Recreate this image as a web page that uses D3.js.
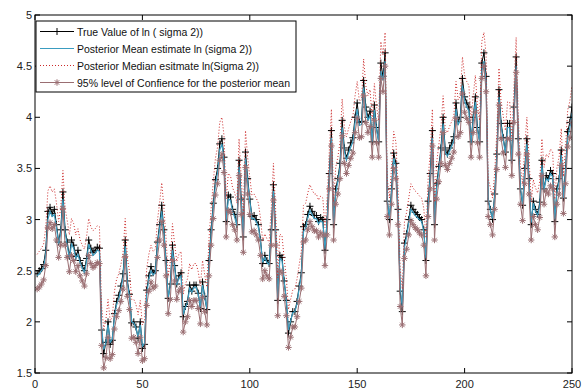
<!DOCTYPE html>
<html>
<head>
<meta charset="utf-8">
<script src="https://cdn.jsdelivr.net/npm/d3@7"></script>
<style>
  body { margin: 0; background: #fff; }
  text { font-family: "Liberation Sans", Arial, sans-serif; }
</style>
</head>
<body>
<svg id="chart" width="587" height="390"></svg>
<script>
// true value of ln(sigma^2), t = 1..250
const trueVals = [
  2.47, 2.50, 2.52, 2.56, 2.70, 3.08, 3.12, 3.06, 3.10, 2.95,
  2.78, 2.90, 3.27, 2.90, 2.78, 2.64, 2.80, 2.75, 2.64, 2.70,
  2.60, 2.55, 2.50, 2.62, 2.80, 2.72, 2.68, 2.70, 2.73, 2.72,
  1.92, 1.69, 1.80, 2.00, 1.78, 1.82, 2.08, 2.20, 2.26, 2.35,
  2.47, 2.80, 2.40, 2.27, 1.99, 2.00, 1.95, 1.84, 2.00, 1.74,
  1.78, 2.31, 2.45, 2.54, 2.48, 2.50, 2.78, 2.95, 3.14, 2.90,
  2.60, 2.23, 2.37, 2.75, 2.55, 2.37, 2.45, 2.48, 2.05, 2.15,
  2.20, 2.36, 2.30, 2.36, 2.36, 2.28, 2.13, 2.39, 2.25, 2.12,
  2.60, 2.90, 3.16, 3.39, 3.50, 3.74, 3.79, 3.61, 2.98, 3.24,
  3.22, 3.10, 3.05, 2.95, 3.58, 3.20, 2.83, 3.66, 3.40, 3.20,
  3.03, 3.04, 3.00, 2.95, 2.80, 2.57, 2.65, 2.60, 2.57, 2.90,
  3.34, 2.90, 2.21, 2.65, 2.63, 2.40, 2.21, 1.89, 2.00, 2.10,
  2.10, 2.20, 2.35, 2.48, 2.93, 2.95, 3.05, 3.13, 3.08, 3.04,
  3.04, 2.98, 3.02, 3.00, 2.70, 3.00, 3.45, 3.87, 2.95, 3.30,
  3.40, 3.55, 3.97, 3.70, 3.60, 3.68, 3.75, 3.80, 4.00, 4.14,
  3.95, 3.96, 4.36, 4.10, 4.00, 4.06, 3.76, 4.12, 3.90, 3.76,
  4.53, 4.40, 4.63, 3.18, 3.00, 3.30, 3.65, 3.55, 3.10, 2.30,
  2.10, 2.77, 2.86, 3.00, 3.14, 3.10, 3.07, 3.05, 3.02, 3.00,
  2.90, 2.60, 3.18, 3.45, 3.87, 2.95, 3.35, 3.52, 3.70, 4.00,
  3.68, 3.64, 3.70, 3.75, 3.81, 4.14, 3.96, 4.00, 4.38, 4.20,
  4.14, 4.10, 3.76, 4.00, 4.20, 3.90, 3.76, 4.53, 4.63, 4.40,
  3.18, 3.10, 3.00, 3.25, 3.64, 4.27, 3.94, 3.80, 3.66, 3.94,
  3.94, 3.58, 4.10, 4.59, 3.79, 3.30, 3.14, 3.50, 3.79, 3.40,
  2.95, 3.18, 3.10, 3.05, 3.17, 3.58, 3.30, 3.43, 3.40, 3.48,
  3.45, 2.98, 3.30, 3.40, 3.68, 3.21, 3.50, 3.86, 3.95, 4.10
];

// posterior mean estimate
const meanVals = [
  2.45, 2.47, 2.50, 2.53, 2.66, 3.00, 3.08, 3.03, 3.05, 2.92,
  2.76, 2.87, 3.20, 2.88, 2.75, 2.62, 2.76, 2.72, 2.62, 2.66,
  2.58, 2.53, 2.48, 2.59, 2.76, 2.70, 2.65, 2.67, 2.70, 2.69,
  1.95, 1.73, 1.80, 1.97, 1.80, 1.83, 2.05, 2.17, 2.23, 2.32,
  2.44, 2.74, 2.38, 2.25, 2.00, 1.99, 1.94, 1.85, 1.97, 1.76,
  1.79, 2.27, 2.42, 2.50, 2.46, 2.48, 2.74, 2.91, 3.08, 2.87,
  2.58, 2.24, 2.35, 2.70, 2.53, 2.36, 2.43, 2.45, 2.07, 2.14,
  2.19, 2.33, 2.29, 2.34, 2.34, 2.27, 2.14, 2.36, 2.24, 2.13,
  2.55, 2.86, 3.12, 3.34, 3.46, 3.68, 3.74, 3.58, 2.99, 3.20,
  3.19, 3.08, 3.02, 2.94, 3.52, 3.18, 2.84, 3.60, 3.37, 3.18,
  3.01, 3.01, 2.98, 2.93, 2.78, 2.58, 2.63, 2.58, 2.56, 2.86,
  3.28, 2.88, 2.23, 2.62, 2.60, 2.39, 2.22, 1.92, 2.01, 2.09,
  2.10, 2.18, 2.33, 2.46, 2.88, 2.92, 3.02, 3.09, 3.05, 3.01,
  3.01, 2.96, 2.99, 2.97, 2.71, 2.98, 3.40, 3.80, 2.96, 3.26,
  3.37, 3.51, 3.90, 3.67, 3.58, 3.65, 3.71, 3.76, 3.95, 4.08,
  3.92, 3.93, 4.29, 4.07, 3.97, 4.02, 3.76, 4.07, 3.88, 3.76,
  4.45, 4.36, 4.55, 3.20, 3.01, 3.27, 3.60, 3.51, 3.10, 2.34,
  2.14, 2.73, 2.83, 2.97, 3.10, 3.07, 3.04, 3.02, 3.00, 2.98,
  2.88, 2.62, 3.14, 3.41, 3.80, 2.96, 3.31, 3.48, 3.66, 3.94,
  3.66, 3.62, 3.67, 3.72, 3.77, 4.08, 3.93, 3.97, 4.31, 4.16,
  4.10, 4.06, 3.75, 3.97, 4.15, 3.88, 3.76, 4.45, 4.55, 4.35,
  3.20, 3.09, 3.01, 3.22, 3.59, 4.20, 3.91, 3.78, 3.65, 3.90,
  3.90, 3.57, 4.05, 4.50, 3.77, 3.31, 3.15, 3.47, 3.74, 3.38,
  2.97, 3.16, 3.08, 3.04, 3.14, 3.53, 3.29, 3.40, 3.38, 3.45,
  3.42, 3.00, 3.27, 3.37, 3.63, 3.21, 3.46, 3.80, 3.90, 4.04
];

// posterior median estimate
const medianVals = [
  2.66, 2.69, 2.72, 2.76, 2.92, 3.28, 3.33, 3.27, 3.30, 3.16,
  2.98, 3.12, 3.48, 3.11, 2.99, 2.85, 3.01, 2.96, 2.85, 2.91,
  2.80, 2.75, 2.71, 2.83, 3.01, 2.93, 2.89, 2.91, 2.94, 2.93,
  2.16, 1.93, 2.02, 2.22, 2.01, 2.05, 2.30, 2.42, 2.47, 2.56,
  2.68, 3.01, 2.62, 2.49, 2.22, 2.22, 2.17, 2.07, 2.21, 1.97,
  2.01, 2.52, 2.66, 2.75, 2.69, 2.71, 2.99, 3.16, 3.36, 3.12,
  2.82, 2.45, 2.59, 2.96, 2.76, 2.59, 2.66, 2.69, 2.27, 2.37,
  2.42, 2.57, 2.51, 2.57, 2.57, 2.49, 2.35, 2.60, 2.46, 2.34,
  2.81, 3.11, 3.37, 3.60, 3.71, 3.95, 4.00, 3.82, 3.20, 3.45,
  3.43, 3.31, 3.26, 3.16, 3.79, 3.41, 3.05, 3.87, 3.61, 3.41,
  3.24, 3.25, 3.21, 3.16, 3.01, 2.79, 2.86, 2.81, 2.78, 3.11,
  3.55, 3.11, 2.43, 2.86, 2.84, 2.62, 2.43, 2.12, 2.22, 2.31,
  2.32, 2.42, 2.56, 2.69, 3.14, 3.16, 3.26, 3.34, 3.29, 3.25,
  3.25, 3.19, 3.23, 3.21, 2.92, 3.21, 3.66, 4.08, 3.17, 3.51,
  3.61, 3.76, 4.18, 3.91, 3.81, 3.89, 3.96, 4.01, 4.21, 4.35,
  4.16, 4.17, 4.57, 4.31, 4.21, 4.27, 3.97, 4.33, 4.11, 3.97,
  4.74, 4.61, 4.83, 3.40, 3.21, 3.51, 3.86, 3.76, 3.32, 2.52,
  2.32, 2.98, 3.07, 3.21, 3.35, 3.31, 3.28, 3.26, 3.23, 3.21,
  3.11, 2.82, 3.39, 3.66, 4.08, 3.17, 3.56, 3.73, 3.91, 4.21,
  3.89, 3.85, 3.91, 3.96, 4.02, 4.35, 4.17, 4.21, 4.59, 4.41,
  4.35, 4.31, 3.97, 4.21, 4.41, 4.11, 3.97, 4.74, 4.83, 4.61,
  3.40, 3.31, 3.21, 3.46, 3.85, 4.48, 4.15, 4.01, 3.87, 4.15,
  4.15, 3.79, 4.31, 4.78, 4.00, 3.51, 3.35, 3.71, 4.00, 3.61,
  3.17, 3.39, 3.31, 3.26, 3.38, 3.79, 3.51, 3.64, 3.61, 3.69,
  3.66, 3.20, 3.51, 3.61, 3.89, 3.42, 3.71, 4.07, 4.16, 4.31
];

// 95% level of confidence (lower band)
const lowerVals = [
  2.32, 2.34, 2.37, 2.41, 2.55, 2.92, 2.97, 2.91, 2.95, 2.80,
  2.63, 2.75, 3.11, 2.75, 2.63, 2.49, 2.65, 2.60, 2.49, 2.55,
  2.45, 2.40, 2.35, 2.47, 2.65, 2.57, 2.53, 2.55, 2.58, 2.57,
  1.77, 1.55, 1.65, 1.85, 1.64, 1.68, 1.93, 2.05, 2.11, 2.20,
  2.32, 2.64, 2.25, 2.12, 1.84, 1.85, 1.80, 1.69, 1.85, 1.62,
  1.64, 2.16, 2.30, 2.39, 2.33, 2.35, 2.63, 2.80, 2.98, 2.75,
  2.45, 2.08, 2.22, 2.60, 2.40, 2.22, 2.30, 2.33, 1.90, 2.00,
  2.05, 2.21, 2.15, 2.21, 2.21, 2.13, 1.98, 2.24, 2.10, 1.97,
  2.45, 2.75, 3.01, 3.24, 3.35, 3.58, 3.64, 3.46, 2.83, 3.09,
  3.07, 2.95, 2.90, 2.80, 3.43, 3.05, 2.68, 3.51, 3.25, 3.05,
  2.88, 2.89, 2.85, 2.80, 2.65, 2.42, 2.50, 2.45, 2.42, 2.75,
  3.19, 2.75, 2.06, 2.50, 2.48, 2.25, 2.06, 1.75, 1.85, 1.95,
  1.95, 2.05, 2.20, 2.33, 2.78, 2.80, 2.90, 2.98, 2.93, 2.89,
  2.89, 2.83, 2.87, 2.85, 2.55, 2.85, 3.30, 3.72, 2.80, 3.15,
  3.25, 3.40, 3.82, 3.55, 3.45, 3.53, 3.60, 3.65, 3.85, 3.99,
  3.80, 3.81, 4.21, 3.95, 3.85, 3.91, 3.61, 3.97, 3.75, 3.61,
  4.38, 4.25, 4.50, 3.03, 2.85, 3.15, 3.50, 3.40, 2.95, 2.15,
  1.97, 2.62, 2.71, 2.85, 2.99, 2.95, 2.92, 2.90, 2.87, 2.85,
  2.75, 2.45, 3.03, 3.30, 3.72, 2.80, 3.20, 3.37, 3.55, 3.85,
  3.53, 3.49, 3.55, 3.60, 3.66, 3.99, 3.81, 3.85, 4.23, 4.05,
  3.99, 3.95, 3.61, 3.85, 4.05, 3.75, 3.61, 4.38, 4.50, 4.25,
  3.03, 2.95, 2.85, 3.10, 3.49, 4.12, 3.79, 3.65, 3.51, 3.79,
  3.79, 3.43, 3.95, 4.44, 3.64, 3.15, 2.99, 3.35, 3.64, 3.25,
  2.80, 3.03, 2.95, 2.90, 3.02, 3.43, 3.15, 3.28, 3.25, 3.33,
  3.30, 2.83, 3.15, 3.25, 3.53, 3.06, 3.35, 3.71, 3.80, 3.95
];

const xTicks = [0, 50, 100, 150, 200, 250];
const yTicks = [1.5, 2, 2.5, 3, 3.5, 4, 4.5, 5];
const legendLabels = [
  "True Value of ln ( sigma 2))",
  "Posterior Mean estimate ln (sigma 2))",
  "Posterior Median esitmate ln(Sigma 2))",
  "95% level of Confience for the posterior mean"
];

const svg = d3.select("#chart");
const mLeft = 35, mRight = 572, mTop = 15, mBottom = 373;

const x = d3.scaleLinear().domain([0, 250]).range([mLeft, mRight]);
const y = d3.scaleLinear().domain([1.5, 5]).range([mBottom, mTop]);

const line = d3.line().x((d, i) => x(i + 1)).y(d => y(d));

const colTrue = "#000000", colMean = "#3a9cc0", colMedian = "#cc2a2a", colLower = "#9a6e72";

// clip to the axes box
svg.append("clipPath").attr("id", "clip")
  .append("rect").attr("x", mLeft).attr("y", mTop).attr("width", mRight - mLeft).attr("height", mBottom - mTop);
let plot = svg.append("g").attr("clip-path", "url(#clip)");

let plusPath = s => `M${-s},0H${s}M0,${-s}V${s}`;
let starPath = s => {
  let k = s * 0.7;
  return `M${-s},0H${s}M0,${-s}V${s}M${-k},${-k}L${k},${k}M${-k},${k}L${k},${-k}`;
};

// true value: black line with + markers
plot.append("path").datum(trueVals).attr("d", line)
  .attr("fill", "none").attr("stroke", colTrue).attr("stroke-width", 1);
plot.selectAll(".plus").data(trueVals).enter().append("path")
  .attr("class", "plus")
  .attr("transform", (d, i) => `translate(${x(i + 1)},${y(d)})`)
  .attr("d", plusPath(3.5))
  .attr("stroke", colTrue).attr("stroke-width", 1).attr("fill", "none");

// posterior mean
plot.append("path").datum(meanVals).attr("d", line)
  .attr("fill", "none").attr("stroke", colMean).attr("stroke-width", 1.2);

// posterior median, dotted
plot.append("path").datum(medianVals).attr("d", line)
  .attr("fill", "none").attr("stroke", colMedian).attr("stroke-width", 1)
  .attr("stroke-dasharray", "1,2");

// 95% lower band with * markers
plot.append("path").datum(lowerVals).attr("d", line)
  .attr("fill", "none").attr("stroke", colLower).attr("stroke-width", 1);
plot.selectAll(".star").data(lowerVals).enter().append("path")
  .attr("class", "star")
  .attr("transform", (d, i) => `translate(${x(i + 1)},${y(d)})`)
  .attr("d", starPath(3.2))
  .attr("stroke", colLower).attr("stroke-width", 1).attr("fill", "none");

// axes box with inward ticks on all sides
let axes = svg.append("g").attr("stroke", "#000").attr("stroke-width", 1).attr("fill", "none");
axes.append("rect").attr("x", mLeft).attr("y", mTop).attr("width", mRight - mLeft).attr("height", mBottom - mTop);
xTicks.forEach(t => {
  axes.append("line").attr("x1", x(t)).attr("x2", x(t)).attr("y1", mBottom).attr("y2", mBottom - 5);
  axes.append("line").attr("x1", x(t)).attr("x2", x(t)).attr("y1", mTop).attr("y2", mTop + 5);
});
yTicks.forEach(t => {
  axes.append("line").attr("x1", mLeft).attr("x2", mLeft + 5).attr("y1", y(t)).attr("y2", y(t));
  axes.append("line").attr("x1", mRight).attr("x2", mRight - 5).attr("y1", y(t)).attr("y2", y(t));
});

svg.selectAll(".xlab").data(xTicks).enter().append("text")
  .attr("x", d => x(d)).attr("y", mBottom + 15)
  .attr("text-anchor", "middle").attr("font-size", 11).attr("fill", "#222")
  .text(d => d);
svg.selectAll(".ylab").data(yTicks).enter().append("text")
  .attr("x", mLeft - 3).attr("y", d => y(d) + 4)
  .attr("text-anchor", "end").attr("font-size", 11).attr("fill", "#222")
  .text(d => d);

// legend
let lg = svg.append("g");
lg.append("rect").attr("x", 36).attr("y", 21).attr("width", 260).attr("height", 71)
  .attr("fill", "#fff").attr("stroke", "#000").attr("stroke-width", 1);
const rowY = i => 31.5 + i * 17;
legendLabels.forEach((lab, i) => {
  let yy = rowY(i);
  let ln = lg.append("line").attr("x1", 40).attr("x2", 74).attr("y1", yy).attr("y2", yy)
    .attr("stroke-width", 1);
  if (i == 0) ln.attr("stroke", colTrue);
  if (i == 1) ln.attr("stroke", colMean).attr("stroke-width", 1.2);
  if (i == 2) ln.attr("stroke", colMedian).attr("stroke-dasharray", "1,2");
  if (i == 3) ln.attr("stroke", colLower);
  if (i == 0) lg.append("path").attr("transform", `translate(57,${yy})`).attr("d", plusPath(3.5))
    .attr("stroke", colTrue).attr("fill", "none");
  if (i == 3) lg.append("path").attr("transform", `translate(57,${yy})`).attr("d", starPath(3.2))
    .attr("stroke", colLower).attr("fill", "none");
  lg.append("text").attr("x", 77).attr("y", yy + 4).attr("font-size", 10.5).attr("fill", "#111")
    .text(lab);
});
</script>
</body>
</html>
